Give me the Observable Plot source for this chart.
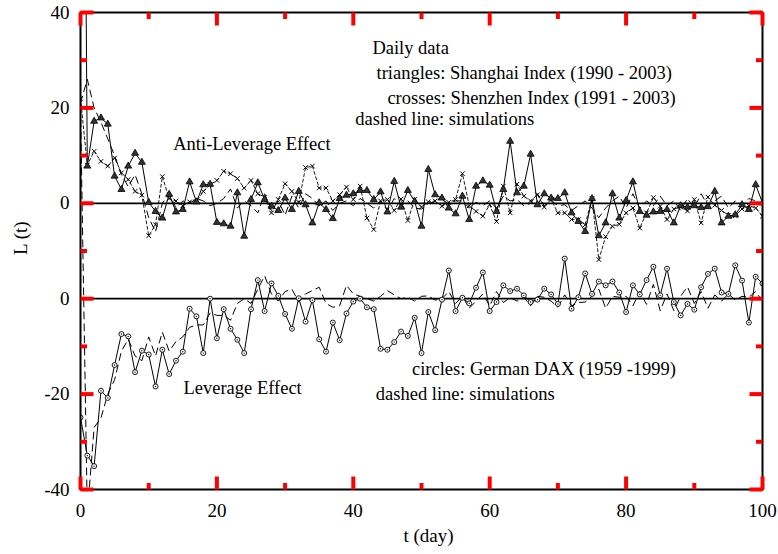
<!DOCTYPE html>
<html>
<head>
<meta charset="utf-8">
<script src="https://cdn.jsdelivr.net/npm/d3@7"></script>
<script src="https://cdn.jsdelivr.net/npm/@observablehq/plot@0.6"></script>
<style>
  html, body { margin: 0; padding: 0; background: #fff; }
</style>
</head>
<body>
<div id="chart"></div>
<script>
// DIAGNOSTIC RUN: tick segments drawn in red to check whether they render in the full chart.
const days = d3.range(0, 101);
const shanghai = [200, 7.8, 17.2, 17.9, 16.6, 5.7, 2.9, 7.8, 10.5, 8.6,
  0.2, -1.7, -3.1, 1.9, -1.8, -1.3, 4.5, 0.3, 3.9, 4.0,
  -4.0, -4.3, -4.8, 2.2, -6.9, 0.8, 4.3, 0.8, -0.6, -1.5,
  1.1, -1.3, 2.5, -0.3, -4.1, 0.1, -1.3, -3.2, 1.0, 1.7,
  2.0, 2.7, 2.7, 0.8, 2.4, -1.8, 4.6, -0.8, 2.7, 0.4,
  -4.8, 7.1, 1.8, 1.1, -1.0, -2.2, 1.5, -3.4, 3.6, 4.7,
  3.8, -1.7, 2.9, 13.0, 2.2, 3.6, 10.3, -0.3, 2.0, 1.1,
  1.0, 2.2, -2.0, -3.8, -5.9, 1.0, -6.8, -4.1, 2.0, -3.1,
  0.6, 4.5, -1.7, -2.5, -1.8, -1.7, -1.3, -4.1, -0.5, -0.8,
  -0.5, -0.9, -0.7, 2.5, -4.1, -2.7, -2.4, -0.3, -1.3, 3.9, 0.1];
const shenzhen = [22, 8, 10.9, 8.8, 7.8, 9.5, 6.4, 5.0, 2.5, 1.7,
  -6.8, -4.5, 5.6, 1.0, 0.5, -0.5, 0.3, 0.3, 2.5, 3.9,
  4.8, 6.7, 6.2, 5.2, 3.2, 4.8, 2.0, 1.3, -2.0, 0.8,
  4.1, 2.5, 0.2, 7.5, 7.8, 3.2, 3.2, 0.5, 1.8, 3.4,
  0.8, 3.6, -3.1, -5.5, 0.5, 0.8, -1.5, 0.9, -3.6, 0.8,
  -0.8, 0.3, 0.5, -0.6, 0.2, 0.8, 6.2, -0.5, -1.7, -2.7,
  -0.3, -3.8, 3.6, -2.0, 4.0, 1.5, 0.5, 1.8, -0.8, 0.8,
  -2.0, -2.0, -3.4, -3.4, -4.5, 1.0, -11.8, -7.0, -4.8, -4.4,
  -2.0, -1.0, -5.2, -2.0, 1.2, -0.6, -3.4, -1.2, -0.8, -1.6,
  0.8, -4.1, 1.3, -0.4, -1.5, -2.5, -2.6, -1.2, -0.5, -1.0, -2.7];
const simUpper = [21, 26, 20, 17, 13.5, 10, 6, 3.5, 6, 2,
  -3, -6, 0, 2, -1, 0.5, 0, 1, 0.5, -0.5,
  0, 1, 3, -1, 0.5, -0.5, -2, 2, -1.5, 0.5,
  -2.5, 1.5, -1, 2, 1, -0.5, 0.5, -1.5, 0, 0.5,
  -0.5, 1, 0, -1, 0.5, -1.5, 1, -0.5, 0.5, -1,
  -1.2, 0, 0.3, 1.5, -0.5, 0.5, 0.5, -1, 0.2, -0.5,
  0.5, -1, 1.5, 0.5, 0.8, -0.5, 0, 2, -0.5, 0.5,
  -0.5, -0.3, -1.5, -0.5, 0.5, -1, -3, -1, 0.5, 1.5,
  -1, 2, -1, 0.5, -0.5, 1.5, -0.5, 0.5, -1.5, 1,
  -1, 2, -0.5, 0.5, 1.5, -1, 0.5, -0.5, 1, 0.5, -0.5];
const dax = [-24.9, -32.9, -35.1, -19.3, -20.8, -13.9, -7.4, -7.9, -15.4, -10.9,
  -11.7, -18.4, -10.7, -15.8, -13.0, -11.1, -2.1, -3.7, -11.4, 0.0,
  -8.3, -2.2, -6.3, -8.6, -11.4, -2.2, 3.9, -2.6, 3.2, 0.6,
  -3.2, -6.3, 0.1, -4.8, -0.3, -8.5, -11.1, -5.0, -8.7, -3.1,
  -0.6, 0.0, -1.8, -2.2, -10.5, -10.7, -9.1, -6.9, -7.8, -4.0,
  -11.4, -2.8, -6.6, -0.2, 5.9, -2.6, 0.2, -1.0, 2.3, 5.5,
  -2.6, -0.7, 2.8, 1.6, 2.1, 0.7, -0.7, -0.2, 2.1, 0.9,
  -1.1, 8.4, -2.1, 0.3, 5.3, 1.0, 3.6, 2.8, 3.6, 1.3,
  -2.8, 2.8, 0.9, 3.9, 6.7, 0.7, 6.3, -0.7, -3.5, -1.1,
  -2.3, 2.4, 5.2, 6.3, 1.3, 1.0, 7.0, 3.8, -5.0, 4.6, 3.2];
const simLower = [40, -45, -27, -25, -20, -17, -11, -8.5, -12, -13,
  -8, -12, -7, -11, -9, -8, -6, -5.5, -5.5, -3,
  -3.5, -3.5, -4.5, -1, 0, -1, 2, 4.8, 1, -0.5,
  1.5, 2, -0.7, 1, 1.7, 2.4, -1, -1.8, -1.5, 2.8,
  1, 0.5, 0, -0.5, 0.5, 1.7, 0.8, 0, 0.3, -0.5,
  0.5, 0.6, -0.3, 0, 1.5, -1, 0.5, -2, -0.5, 1,
  -1.5, 1.5, -0.8, 0.2, -0.5, 0.3, -1.5, 0.5, 0.3, -0.5,
  -1.8, 0.8, -1.5, -0.8, -0.7, 0.5, 2, -2, 0.5, 0.3,
  0.5, -1.5, 1.5, -1.2, 3, -2.5, 1, -2.5, 0.5, 2.5,
  -1, 1.5, -2, 0.8, -0.5, 1, -0.3, 0.5, 0.3, 1.5, -0.5];

const upperOffset = 20;
const zeroLines = [upperOffset, 0];
const xDomain = [0, 100];
const yDomain = [-40, 60];
const xMajor = [0, 20, 40, 60, 80, 100];
const xMinor = [10, 30, 50, 70, 90];
const xLabels = ["0", "20", "40", "60", "80", "100"];
const yMajor = [60, 40, 20, 0, -20, -40];
const yMinor = [50, 30, 10, -10, -30];
const yLabels = ["40", "20", "0", "0", "-20", "-40"];
const annoText = ["Daily data", "triangles: Shanghai Index (1990 - 2003)",
  "crosses: Shenzhen Index (1991 - 2003)", "dashed line: simulations",
  "Anti-Leverage Effect", "Leverage Effect",
  "circles: German DAX (1959 -1999)", "dashed line: simulations"];
const annoT = [42.8, 43.4, 45.0, 40.3, 13.6, 15.1, 48.6, 43.3];
const annoY = [52.6, 47.2, 42.1, 37.7, 32.5, -18.7, -14.7, -20.1];

const rows = days.map((t, i) => ({
  t, sh: shanghai[i] + upperOffset, sz: shenzhen[i] + upperOffset,
  simU: simUpper[i] + upperOffset, dax: dax[i], simL: simLower[i]
}));

const FONT = "Liberation Serif, 'Times New Roman', serif";
const W = 778, H = 554, ML = 80, MR = 16, MT = 12, MB = 65;
const MAJ = 13, MIN = 6.5;
const tPerPx = (xDomain[1] - xDomain[0]) / (W - ML - MR);
const yPerPx = (yDomain[1] - yDomain[0]) / (H - MT - MB);
const tickSegs = [];
for (const [vals, len] of [[xMajor, MAJ], [xMinor, MIN]]) {
  for (const v of vals) {
    tickSegs.push({ x1: v, x2: v, y1: yDomain[0], y2: yDomain[0] + len * yPerPx });
    tickSegs.push({ x1: v, x2: v, y1: yDomain[1], y2: yDomain[1] - len * yPerPx });
  }
}
for (const [vals, len] of [[yMajor, MAJ], [yMinor, MIN]]) {
  for (const v of vals) {
    tickSegs.push({ y1: v, y2: v, x1: xDomain[0], x2: xDomain[0] + len * tPerPx });
    tickSegs.push({ y1: v, y2: v, x1: xDomain[1], x2: xDomain[1] - len * tPerPx });
  }
}

const chart = Plot.plot({
  width: W, height: H, marginLeft: ML, marginRight: MR, marginTop: MT, marginBottom: MB,
  style: { fontFamily: FONT, fontSize: "19px", background: "white" },
  x: { domain: xDomain }, y: { domain: yDomain },
  marks: [
    Plot.ruleY(zeroLines, { stroke: "black", strokeWidth: 1.7 }),
    Plot.line(rows, { x: "t", y: "simL", stroke: "black", strokeWidth: 1, strokeDasharray: "7,5", clip: true }),
    Plot.line(rows, { x: "t", y: "dax", stroke: "black", strokeWidth: 1, clip: true }),
    Plot.dot(rows, { x: "t", y: "dax", r: 2.5, stroke: "black", fill: "white", strokeWidth: 0.9, clip: true }),
    Plot.dot(rows, { x: "t", y: "dax", r: 0.7, fill: "black", clip: true }),
    Plot.line(rows, { x: "t", y: "simU", stroke: "black", strokeWidth: 1, strokeDasharray: "7,5", clip: true }),
    Plot.line(rows, { x: "t", y: "sz", stroke: "black", strokeWidth: 0.9, strokeDasharray: "3,2.5", clip: true }),
    Plot.dot(rows, { x: "t", y: "sz", symbol: "times", r: 2.2, stroke: "black", strokeWidth: 1, clip: true }),
    Plot.line(rows, { x: "t", y: "sh", stroke: "black", strokeWidth: 1, clip: true }),
    Plot.dot(rows, { x: "t", y: "sh", symbol: "triangle", r: 2.6, fill: "#333", stroke: "black", strokeWidth: 0.8, clip: true }),
    Plot.frame({ stroke: "black", strokeWidth: 2 }),
    Plot.link(tickSegs, { x1: "x1", x2: "x2", y1: "y1", y2: "y2", stroke: "red", strokeWidth: 4 }),
    Plot.axisX(xMajor, { anchor: "bottom", tickSize: 0, tickPadding: 14, label: null,
      tickFormat: (d) => xLabels[xMajor.indexOf(d)], fontSize: 19, fontFamily: FONT }),
    Plot.axisY(yMajor, { anchor: "left", tickSize: 0, tickPadding: 11, label: null,
      tickFormat: (d) => yLabels[yMajor.indexOf(d)], fontSize: 19, fontFamily: FONT }),
    Plot.text(["L (t)"], { frameAnchor: "left", dx: -60, dy: 4, rotate: -90, fontSize: 19, fontFamily: FONT, fill: "black" }),
    Plot.text(["t (day)"], { frameAnchor: "bottom", dx: 7, dy: 52, fontSize: 19, fontFamily: FONT, fill: "black" }),
    Plot.text(annoText, { x: (d, i) => annoT[i], y: (d, i) => annoY[i], text: (d) => d,
      textAnchor: "start", fontSize: 18.5, fontFamily: FONT, fill: "black" })
  ]
});
document.getElementById("chart").appendChild(chart);
</script>
</body>
</html>
